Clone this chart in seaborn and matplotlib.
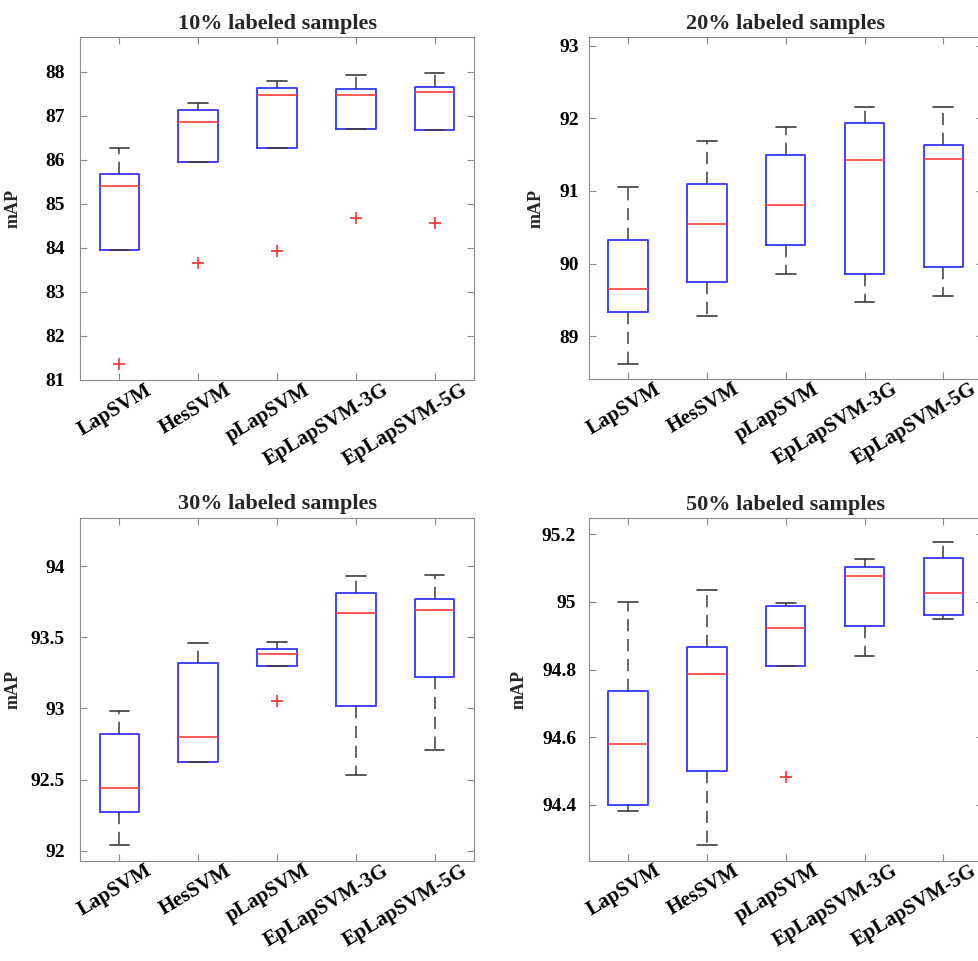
import matplotlib
matplotlib.use('Agg')
import matplotlib.pyplot as plt
import matplotlib.transforms as mtransforms
import seaborn as sns

# ---- data ----
methods = ['LapSVM', 'HesSVM', 'pLapSVM', 'EpLapSVM-3G', 'EpLapSVM-5G']
titles = ['10% labeled samples', '20% labeled samples',
          '30% labeled samples', '50% labeled samples']

# 10% labeled
lo_10 = [83.96, 85.95, 86.27, 86.69, 86.68]
q1_10 = [83.96, 85.95, 86.27, 86.69, 86.68]
med_10 = [85.41, 86.87, 87.47, 87.47, 87.53]
q3_10 = [85.67, 87.14, 87.64, 87.62, 87.65]
hi_10 = [86.26, 87.28, 87.79, 87.93, 87.97]
out_10 = [[81.36], [83.65], [83.94], [84.67], [84.57]]

# 20% labeled
lo_20 = [88.62, 89.28, 89.85, 89.47, 89.55]
q1_20 = [89.33, 89.75, 90.25, 89.85, 89.95]
med_20 = [89.65, 90.54, 90.81, 91.43, 91.44]
q3_20 = [90.32, 91.09, 91.49, 91.94, 91.63]
hi_20 = [91.05, 91.69, 91.88, 92.15, 92.15]
out_20 = [[], [], [], [], []]

# 30% labeled
lo_30 = [92.04, 92.62, 93.30, 92.53, 92.71]
q1_30 = [92.27, 92.62, 93.30, 93.02, 93.22]
med_30 = [92.44, 92.80, 93.38, 93.67, 93.69]
q3_30 = [92.82, 93.32, 93.42, 93.81, 93.77]
hi_30 = [92.98, 93.46, 93.47, 93.93, 93.94]
out_30 = [[], [], [93.05], [], []]

# 50% labeled
lo_50 = [94.383, 94.281, 94.811, 94.839, 94.948]
q1_50 = [94.400, 94.499, 94.811, 94.928, 94.962]
med_50 = [94.581, 94.788, 94.922, 95.077, 95.027]
q3_50 = [94.736, 94.866, 94.989, 95.104, 95.131]
hi_50 = [95.000, 95.035, 94.997, 95.127, 95.177]
out_50 = [[], [], [94.481], [], []]

panels = [
    (lo_10, q1_10, med_10, q3_10, hi_10, out_10),
    (lo_20, q1_20, med_20, q3_20, hi_20, out_20),
    (lo_30, q1_30, med_30, q3_30, hi_30, out_30),
    (lo_50, q1_50, med_50, q3_50, hi_50, out_50),
]

ylims = [(81.0, 88.79), (88.41, 93.12), (91.93, 94.34), (94.235, 95.247)]
yticks = [[81, 82, 83, 84, 85, 86, 87, 88],
          [89, 90, 91, 92, 93],
          [92, 92.5, 93, 93.5, 94],
          [94.4, 94.6, 94.8, 95, 95.2]]
ytick_labels = [[str(t) for t in yticks[0]],
                [str(t) for t in yticks[1]],
                ['92', '92.5', '93', '93.5', '94'],
                ['94.4', '94.6', '94.8', '95', '95.2']]

# ---- style ----
sns.set_style('white', rc={
    'axes.edgecolor': '#8c8c8c',
    'axes.linewidth': 1.1,
    'xtick.direction': 'in',
    'ytick.direction': 'in',
    'xtick.top': True,
    'ytick.right': True,
    'xtick.bottom': True,
    'ytick.left': True,
    'xtick.color': '#8c8c8c',
    'ytick.color': '#8c8c8c',
})
plt.rcParams['font.family'] = ['Liberation Serif', 'DejaVu Serif']
plt.rcParams['font.weight'] = 'bold'

fig = plt.figure(figsize=(9.79, 9.61), dpi=100)

# axes boxes in figure fraction (right column runs off the edge like the original)
boxes = [
    [0.0817, 0.6046, 0.4025, 0.3569],
    [0.6013, 0.6056, 0.4025, 0.3559],
    [0.0817, 0.1044, 0.4025, 0.3569],
    [0.6013, 0.1044, 0.4025, 0.3563],
]
ylabel_x = [-0.147, -0.113, -0.147, -0.154]
ypads = [11, 7, 11, 9]

positions = [1, 2, 3, 4, 5]
blue = '#3535ff'
red = '#ff3c3c'

for i, (lo, q1, med, q3, hi, outs) in enumerate(panels):
    ax = fig.add_axes(boxes[i])
    stats = []
    for k in range(len(methods)):
        stats.append({'whislo': lo[k], 'q1': q1[k], 'med': med[k],
                      'q3': q3[k], 'whishi': hi[k], 'fliers': [],
                      'label': methods[k]})
    ax.bxp(stats, positions=positions, widths=0.5, showfliers=False,
           boxprops=dict(color=blue, linewidth=1.3),
           medianprops=dict(color=red, linewidth=1.2),
           whiskerprops=dict(color='#3c3c3c', linewidth=1.1,
                             linestyle=(0, (8, 5))),
           capprops=dict(color='#3c3c3c', linewidth=1.2, zorder=3))

    # outliers
    ox = [positions[k] for k in range(len(methods)) for v in outs[k]]
    oy = [v for k in range(len(methods)) for v in outs[k]]
    if ox:
        sns.scatterplot(x=ox, y=oy, marker='+', color=red, s=70,
                        linewidth=1.3, ax=ax, zorder=4)

    ax.set_xlim(0.5, 5.5)
    ax.set_ylim(*ylims[i])
    ax.set_yticks(yticks[i])
    ax.set_yticklabels(ytick_labels[i], fontsize=14, fontweight='bold',
                       color='black')
    ax.set_xticks(positions)
    ax.set_xticklabels(methods, fontsize=15, fontweight='bold',
                       color='black', rotation=31, ha='right',
                       rotation_mode='anchor', va='top')
    ax.tick_params(axis='x', pad=0, length=5)
    ax.tick_params(axis='y', pad=ypads[i], length=5)
    offset = mtransforms.ScaledTranslation(0.26, 0.0, fig.dpi_scale_trans)
    for lab in ax.get_xticklabels():
        lab.set_transform(lab.get_transform() + offset)

    ax.set_title(titles[i], fontsize=16, fontweight='bold', pad=6)
    ax.set_ylabel('mAP', fontsize=13, fontweight='bold')
    ax.yaxis.set_label_coords(ylabel_x[i], 0.5)
    for sp in ax.spines.values():
        sp.set_visible(True)

fig.savefig('out.png', dpi=100)
